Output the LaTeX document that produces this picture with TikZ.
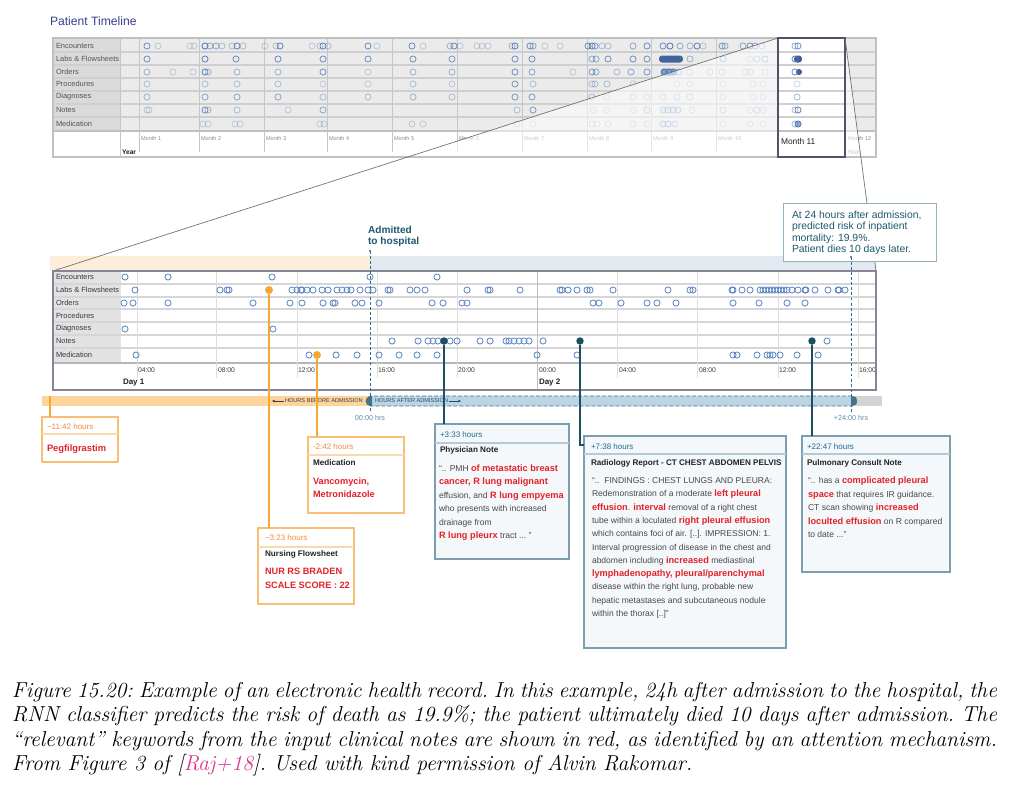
\documentclass[tikz,border=0pt]{standalone}
\usepackage{fontspec}
\newfontfamily\rob{Liberation Sans}
\usetikzlibrary{fit,arrows.meta}
\newcommand\fsz[2]{\fontsize{#1}{#2}\selectfont}
\newcommand\tdots{...}
\definecolor{cblue}{HTML}{4E77B6}
\definecolor{lowc}{HTML}{5C85C3}
\definecolor{cdark}{HTML}{1E4D66}
\definecolor{corange}{HTML}{F7A733}
\definecolor{ohdr}{HTML}{F28C3A}
\definecolor{cteal}{HTML}{1F6A8E}
\definecolor{kwred}{HTML}{E32129}
\definecolor{titleblue}{HTML}{383D8E}
\definecolor{admitc}{HTML}{1C5A70}
\definecolor{toprowc}{HTML}{EBEBEB}
\definecolor{toplabc}{HTML}{DADADA}
\definecolor{topsepc}{HTML}{CFCFCF}
\definecolor{topgridc}{HTML}{C6C6C6}
\definecolor{topborder}{HTML}{C0C0C0}
\definecolor{m11c}{HTML}{4F5368}
\definecolor{conec}{HTML}{6E6E6E}
\definecolor{bandO}{HTML}{FDEEDC}
\definecolor{bandB}{HTML}{E3EAEF}
\definecolor{lowlabc}{HTML}{E2E2E2}
\definecolor{lowsepc}{HTML}{D6D6D6}
\definecolor{lowgridc}{HTML}{DDDDDD}
\definecolor{daygridc}{HTML}{BDBDBD}
\definecolor{lowborderc}{HTML}{858597}
\definecolor{dashc}{HTML}{2F6F8B}
\definecolor{annoc}{HTML}{93B1C2}
\definecolor{annotext}{HTML}{1D5A6E}
\definecolor{barO}{HTML}{FDD49C}
\definecolor{barB}{HTML}{BDD5E2}
\definecolor{barEdge}{HTML}{3F7590}
\definecolor{barGray}{HTML}{D3D3D3}
\definecolor{hrsc}{HTML}{5E8EA8}
\definecolor{oboxc}{HTML}{F9BE74}
\definecolor{oboxsep}{HTML}{FBD8AE}
\definecolor{bboxc}{HTML}{7D9DB1}
\definecolor{bboxfill}{HTML}{F4F8FB}
\definecolor{bboxsep}{HTML}{B5CAD7}
\definecolor{txtdark}{HTML}{222222}
\definecolor{bodyc}{HTML}{484848}
\definecolor{labc}{HTML}{3A3A3A}
\definecolor{toplabtxt}{HTML}{555555}
\definecolor{monc}{HTML}{8C8C8C}
\definecolor{capmag}{HTML}{E0338D}
\newcommand\kw[1]{{\color{kwred}\bfseries\fsz{6.9}{10}#1}}
\newcommand\toprow[2]{\foreach \x/\o in {#2} \draw[tcirc, draw opacity=\o] (\x,#1) circle[radius=2.3pt];}
\newcommand\lowrow[2]{\foreach \x in {#2} \draw[lcirc] (\x,#1) circle[radius=2.3pt];}
\tikzset{
  tcirc/.style={draw=cblue, line width=0.6pt},
  lcirc/.style={draw=lowc, line width=0.6pt},
  toplab/.style={anchor=west, font={\rob\fsz{5.6}{7}}, text=toplabtxt},
  lowlab/.style={anchor=west, font={\rob\fsz{5.6}{7}}, text=labc},
  mon/.style={anchor=west, font={\rob\fsz{4.2}{5}}, text=monc},
  hrlab/.style={anchor=west, font={\rob\fsz{5.1}{6}}, text=labc},
  hdrO/.style={anchor=west, font={\rob\fsz{6}{7}}, text=ohdr},
  hdrB/.style={anchor=west, font={\rob\fsz{6}{7}}, text=cteal},
  ttl/.style={anchor=west, font={\rob\bfseries\fsz{6.1}{7}}, text=txtdark},
  bodyl/.style={anchor=base west, font={\rob\fsz{6.4}{10}}, text=bodyc},
  redl/.style={anchor=base west, font={\rob\bfseries\fsz{6.9}{10}}, text=kwred},
  obx/.style={draw=oboxc, fill=white, line width=0.8pt},
  bbx/.style={draw=bboxc, fill=bboxfill, line width=0.8pt},
  ostem/.style={draw=corange, line width=1pt},
  bstem/.style={draw=cdark, line width=1pt},
  dashline/.style={draw=dashc, line width=0.7pt, dash pattern=on 2.2pt off 1.6pt},
  caplin/.style={anchor=base west, font={\frenchspacing\itshape\fsz{16.2}{19}}},
}
\begin{document}
\begin{tikzpicture}[x=0.75pt,y=-0.75pt, every node/.style={inner sep=0pt, outer sep=0pt}]
\useasboundingbox (0,0) rectangle (1009,790);
\fill[white] (0,0) rectangle (1009,790);

% ---------- title ----------
\node[anchor=west, font={\rob\fsz{9.1}{11}}, text=titleblue] (title) at (50,21) {Patient Timeline};

% ---------- top panel ----------
\node[fit={(53,38) (876,157)}, fill=white] (tp) {};
\fill[toprowc] (120,38) rectangle (876,131);
\fill[toplabc] (53,38) rectangle (120,131);
\foreach \y in {52,65,78,91,104,117} \draw[topsepc, line width=0.8pt] (53,\y) -- (876,\y);
\draw[topborder, line width=0.8pt] (53,131) -- (876,131);
\foreach \x in {139,199,264,327,392,457,522,587,651,716} \draw[topgridc, line width=0.5pt] (\x,38) -- (\x,152);
\draw[topgridc, line width=0.5pt] (120,38) -- (120,157);
\foreach \t/\y [count=\i] in {Encounters/46, Labs \& Flowsheets/59, Orders/72, Procedures/84, Diagnoses/97, Notes/110, Medication/124}
  \node[toplab] (tl\i) at (56,\y) {\t};
\foreach \x/\t [count=\i] in {141/Month 1,201/Month 2,266/Month 3,329/Month 4,394/Month 5,459/Month 6,524/Month 7,589/Month 8,653/Month 9,718/Month 10,848/Month 12}
  \node[mon] (mo\i) at (\x,138) {\t};
\node[anchor=west, font={\rob\bfseries\fsz{5}{6}}, text=txtdark] (year1) at (122,152) {Year};
\node[anchor=west, font={\rob\fsz{5}{6}}, text=monc] (year2) at (847,152) {Year};

\toprow{46}{147/0.8,158/0.3,190/0.3,194/0.3,205/1,210/0.6,216/0.6,222/0.4,232/0.4,237/0.9,243/0.4,265/0.3,276/0.4,280/0.9,312/0.3,320/0.4,323/0.9,328/0.4,368/0.8,377/0.3,412/0.8,423/0.3,450/0.5,454/0.8,460/0.3,477/0.3,482/0.3,488/0.3,512/0.5,515/0.9,530/0.8,533/0.6,545/0.3,560/0.3,588/0.8,592/0.9,595/0.7,602/0.4,608/0.4,633/0.6,647/0.8,663/0.8,670/1,680/0.6,690/0.5,697/0.9,703/0.4,722/0.7,725/0.6,743/0.6,750/0.8,755/0.6,762/0.4,780/0.3}
\fill[cblue!85!black, rounded corners=2.3pt] (659,55.5) rectangle (683,62.5);
\toprow{59}{147/0.8,205/0.9,236/0.8,278/0.8,323/0.8,368/0.8,413/0.8,452/0.7,515/0.8,532/0.8,592/0.6,596/0.6,608/0.8,633/0.8,647/0.8,690/0.5,723/0.6,750/0.3,757/0.4,765/0.6}
\fill[cblue!75, rounded corners=2.3pt] (661,68.5) rectangle (676,75.5);
\toprow{72}{147/0.5,173/0.3,193/0.3,205/0.9,208/0.5,237/0.5,278/0.5,323/0.8,368/0.3,413/0.5,452/0.5,515/0.8,532/0.6,573/0.3,592/0.7,596/0.6,617/0.4,631/0.6,647/0.7,664/0.9,669/0.9,674/0.8,679/0.6,690/0.3,710/0.3,722/0.4,745/0.3,750/0.4,765/0.3}
\toprow{84}{147/0.4,205/0.4,237/0.4,278/0.4,323/0.3,368/0.3,413/0.4,452/0.3,515/0.7,533/0.4,592/0.4,595/0.4,607/0.4,633/0.3,677/0.3,690/0.3,723/0.3,753/0.3,763/0.3}
\toprow{97}{147/0.5,205/0.6,237/0.6,278/0.6,323/0.4,368/0.4,413/0.5,452/0.4,515/0.7,532/0.7,592/0.4,607/0.3,633/0.4,647/0.4,663/0.4,677/0.4,690/0.4,723/0.3,753/0.3,763/0.3}
\fill[cblue!25, rounded corners=2.3pt] (661,106.5) rectangle (681,113.5);
\toprow{110}{147/0.3,149/0.3,205/0.8,208/0.5,237/0.4,288/0.3,323/0.6,517/0.4,533/0.7,593/0.3,607/0.3,633/0.3,647/0.5,663/0.5,668/0.5,673/0.5,678/0.5,692/0.3,723/0.4,750/0.3,757/0.4,763/0.3}
\fill[cblue!20, rounded corners=2.3pt] (661,120.5) rectangle (677,127.5);
\toprow{124}{203/0.3,208/0.3,235/0.3,240/0.3,320/0.3,324/0.3,412/0.3,423/0.3,517/0.3,533/0.3,592/0.3,597/0.3,608/0.3,633/0.3,647/0.3,663/0.6,668/0.6,675/0.4,723/0.3,750/0.3,763/0.3}

% zoom cone
\coordinate (m11NW) at (778,38);
\coordinate (m11NE) at (845,38);
\coordinate (lpNW) at (53,271);
\coordinate (lpNE) at (876,271);
\fill[white, opacity=0.55] (m11NW) -- (m11NE) -- (lpNE) -- (lpNW) -- cycle;
\draw[topborder, line width=0.8pt] (tp.north west) rectangle (tp.south east);

% month 11 box
\node[fit={(m11NW) (845,157)}, fill=white] (m11) {};
\foreach \y in {52,65,78,91,104,117} \draw[topsepc, line width=0.8pt] (778,\y) -- (845,\y);
\draw[topborder, line width=0.8pt] (778,131) -- (845,131);
\toprow{46}{795/0.6,798/0.8}
\fill[cblue!80!black, rounded corners=2.3pt] (794,55.5) rectangle (802,62.5);
\toprow{59}{795/0.9}
\fill[cblue!80!black] (799,72) circle[radius=2.3pt];
\toprow{72}{795/0.8}
\toprow{84}{797/0.3}
\toprow{97}{797/0.5}
\toprow{110}{795/0.5,798/0.9}
\fill[cblue!60] (798,124) circle[radius=2.3pt];
\toprow{124}{795/0.5,798/1}
\node[anchor=west, font={\rob\fsz{6.3}{7}}, text=txtdark] (m11lab) at (781,141) {Month 11};
\draw[m11c, line width=0.8pt] (m11.north west) rectangle (m11.south east);

% ---------- lower panel ----------
\fill[bandO] (50,256) rectangle (370,271);
\fill[bandB] (370,256) rectangle (876,271);
\draw[conec, line width=0.5pt] (m11.north west) -- (lpNW);
\draw[conec, line width=0.5pt] (m11.north east) -- (lpNE);
\node[fit={(lpNW) (876,390)}, fill=white] (lp) {};
\fill[lowlabc] (53,271) rectangle (121,363);
\foreach \y in {284,297,309,322,335,348} \draw[lowsepc, line width=1.3pt] (53,\y) -- (876,\y);
\draw[lowsepc!85!black, line width=1.3pt] (53,363) -- (876,363);
\foreach \x in {137,216,297,377,457,617,697,778,858} \draw[lowgridc, line width=0.6pt] (\x,271) -- (\x,378);
\draw[daygridc, line width=0.6pt] (537,271) -- (537,390);
\foreach \t/\y [count=\i] in {Encounters/277, Labs \& Flowsheets/290, Orders/303, Procedures/316, Diagnoses/329, Notes/341, Medication/355}
  \node[lowlab] (ll\i) at (56,\y) {\t};
\foreach \x/\t [count=\i] in {138/04:00,218/08:00,298/12:00,378/16:00,458/20:00,539/00:00,619/04:00,699/08:00,779/12:00,859/16:00}
  \node[hrlab] (hr\i) at (\x,370) {\t};
\node[anchor=west, font={\rob\bfseries\fsz{6}{7}}, text=txtdark] (day1) at (123,383) {Day 1};
\node[anchor=west, font={\rob\bfseries\fsz{6}{7}}, text=txtdark] (day2) at (539,383) {Day 2};

\lowrow{277}{125,168,272,370,437}
\lowrow{290}{135,220,227,229,292,297,301,302,307,313,322,328,337,342,347,351,360,368,373,388,390,410,417,425,467,488,490,520,560,562,568,577,587,590,613,668,690,693,732,733,742,750,760,763,766,769,772,775,778,781,784,787,792,798,805,806,815,828,838,839,845}
\lowrow{303}{124,133,168,253,290,302,323,333,335,355,362,379,432,443,462,467,593,599,621,647,657,676,733,759,787,805}
\lowrow{329}{125,273}
\lowrow{341}{392,418,428,433,438,450,457,480,490,506,509,514,519,524,529,543,827}
\lowrow{355}{136,309,336,357,379,399,417,437,537,577,733,737,757,767,770,773,780,797,818}
\draw[lowborderc, line width=1pt] (lp.north west) rectangle (lp.south east);

% admission marker
\node[anchor=west, font={\rob\bfseries\fsz{7.6}{9}}, text=admitc] (admA) at (368,230) {Admitted};
\node[anchor=west, font={\rob\bfseries\fsz{7.6}{9}}, text=admitc] (admB) at (368,242) {to hospital};
\coordinate (adm) at (370,251);
\coordinate (admE) at (370,412);

% annotation box
\node[fit={(783,203) (936,261)}, draw=annoc, fill=white, line width=0.7pt] (ann) {};
\foreach \t/\y [count=\i] in {{At 24 hours after admission,}/215, {predicted risk of inpatient}/227, {mortality: 19.9\%.}/238.5, {Patient dies 10 days later.}/250}
  \node[anchor=west, font={\rob\fsz{7.8}{9}}, text=annotext] (an\i) at (792,\y) {\t};
\coordinate (d24a) at (851,257);
\coordinate (d24b) at (851,412);

% ---------- hours bar ----------
\fill[barO] (42,396) rectangle (370,406);
\fill[barGray] (853,396) rectangle (882,406);
\draw[fill=barB, draw=barEdge, line width=0.6pt, dash pattern=on 3pt off 1.5pt, rounded corners=3.7pt] (366,396) rectangle (857,406);
\begin{scope}
  \clip (365,395) rectangle (372,407);
  \fill[barEdge, rounded corners=3.7pt] (366,396) rectangle (380,406);
\end{scope}
\begin{scope}
  \clip (851,395) rectangle (858,407);
  \fill[barEdge, rounded corners=3.7pt] (843,396) rectangle (857,406);
\end{scope}
\node[anchor=west, font={\rob\fsz{4.2}{5}}, text=labc] (hb) at (285,401) {HOURS BEFORE ADMISSION};
\draw[labc, line width=0.5pt, -{Stealth[length=2.4pt,width=2pt]}] (hb.west) ++(-1,0) -- ++(-12,0);
\node[anchor=west, font={\rob\fsz{4.2}{5}}, text=cdark] (ha) at (375,401) {HOURS AFTER ADMISSION};
\draw[cdark, line width=0.5pt, -{Stealth[length=2.4pt,width=2pt]}] (ha.east) ++(1,0) -- ++(12,0);
\node[font={\rob\fsz{5.4}{6}}, text=hrsc] (h0) at (370,418) {00:00 hrs};
\node[font={\rob\fsz{5.4}{6}}, text=hrsc] (h24) at (851,418) {+24:00 hrs};

\draw[dashline] (adm) -- (admE);
\fill[dashc] (adm) circle[radius=0.9pt];
\draw[dashline] (d24a) -- (d24b);
\fill[dashc] (d24a) circle[radius=0.9pt];

% ---------- annotation boxes ----------
\node[obx, fit={(42,417) (118,462)}] (b1) {};
\draw[oboxsep, line width=0.8pt] (42,434) -- (118,434);
\node[hdrO] (b1h) at (47,427) {−11:42 hours};
\node[anchor=west, font={\rob\bfseries\fsz{7}{8}}, text=kwred] (b1r) at (47,449) {Pegfilgrastim};

\node[obx, fit={(308,437) (404,513)}] (b2) {};
\draw[oboxsep, line width=0.8pt] (308,455) -- (404,455);
\node[hdrO] (b2h) at (313,447) {-2:42 hours};
\node[ttl] (b2t) at (313,463) {Medication};
\node[redl] (b2r1) at (313,484.5) {Vancomycin,};
\node[redl] (b2r2) at (313,497) {Metronidazole};

\node[obx, fit={(258,528) (354,604)}] (b3) {};
\draw[oboxsep, line width=0.8pt] (258,547) -- (354,547);
\node[hdrO] (b3h) at (265,538) {−3:23 hours};
\node[ttl] (b3t) at (265,554) {Nursing Flowsheet};
\node[redl] (b3r1) at (265,574.5) {NUR RS BRADEN};
\node[redl] (b3r2) at (265,588.5) {SCALE SCORE : 22};

\node[bbx, fit={(435,424) (569,559)}] (b4) {};
\draw[bboxsep, line width=0.8pt] (435,443) -- (569,443);
\node[hdrB] (b4h) at (440,435) {+3:33 hours};
\node[ttl] (b4t) at (440,450) {Physician Note};
\foreach \t [count=\i] in {{“.. PMH \kw{of metastatic breast}},{\kw{cancer, R lung malignant}},{effusion, and \kw{R lung empyema}},{who presents with increased},{drainage from},{\kw{R lung pleurx} tract \tdots\ ”}}
  \node[bodyl] (p\i) at (439,{471.5+13.4*(\i-1)}) {\t};

\node[bbx, fit={(584,436) (786,648)}] (b5) {};
\draw[bboxsep, line width=0.8pt] (584,454) -- (786,454);
\node[hdrB] (b5h) at (591,447) {+7:38 hours};
\node[ttl] (b5t) at (591,463) {Radiology Report - CT CHEST ABDOMEN PELVIS};
\foreach \t [count=\i] in {{“..\ \ FINDINGS : CHEST LUNGS AND PLEURA:},{Redemonstration of a moderate \kw{left pleural}},{\kw{effusion}. \kw{interval} removal of a right chest},{tube within a loculated \kw{right pleural effusion}},{which contains foci of air. [..]. IMPRESSION: 1.},{Interval progression of disease in the chest and},{abdomen including \kw{increased} mediastinal},{\kw{lymphadenopathy, pleural/parenchymal}},{disease within the right lung, probable new},{hepatic metastases and subcutaneous nodule},{within the thorax [..]”}}
  \node[bodyl] (r\i) at (592,{483.5+13.3*(\i-1)}) {\t};

\node[bbx, fit={(802,436) (950,572)}] (b6) {};
\draw[bboxsep, line width=0.8pt] (802,454) -- (950,454);
\node[hdrB] (b6h) at (807,447) {+22:47 hours};
\node[ttl] (b6t) at (807,463) {Pulmonary Consult Note};
\foreach \t [count=\i] in {{“.. has a \kw{complicated pleural}},{\kw{space} that requires IR guidance.},{CT scan showing \kw{increased}},{\kw{loculted effusion} on R compared},{to date \tdots”}}
  \node[bodyl] (u\i) at (808,{483.5+13.5*(\i-1)}) {\t};

% ---------- markers and stems ----------
\node[circle, fill=corange, minimum size=6pt] (mkA) at (269,290) {};
\node[circle, fill=corange, minimum size=6pt] (mkB) at (317,355) {};
\node[circle, fill=cdark, minimum size=5.6pt] (mkC) at (444,341) {};
\node[circle, fill=cdark, minimum size=5.6pt] (mkD) at (580,341) {};
\node[circle, fill=cdark, minimum size=5.6pt] (mkE) at (812,341) {};
\coordinate (peg) at (50,396);
\coordinate (rj) at (584,445);
\draw[ostem] (peg) -- (peg |- b1.north);
\draw[ostem] (mkA) -- (mkA |- b3.north);
\draw[ostem] (mkB) -- (mkB |- b2.north);
\draw[bstem] (mkC) -- (mkC |- b4.north);
\draw[bstem] (mkD) |- (rj);
\draw[bstem] (mkE) -- (mkE |- b6.north);

% ---------- caption ----------
\node[caplin] (cap1) at (12,697) {\hbox to 738.75pt{Figure 15.20: Example of an electronic health record. In this example, 24h after admission to the hospital, the}};
\node[caplin] (cap2) at (12,721.5) {\hbox to 738.75pt{RNN classifier predicts the risk of death as 19.9\%; the patient ultimately died 10 days after admission. The}};
\node[caplin] (cap3) at (12,746) {\hbox to 738.75pt{``relevant'' keywords from the input clinical notes are shown in red, as identified by an attention mechanism.}};
\node[caplin] (cap4) at (12,770) {From Figure 3 of [{\color{capmag}Raj+18}]. Used with kind permission of Alvin Rakomar.};
\end{tikzpicture}
\end{document}
